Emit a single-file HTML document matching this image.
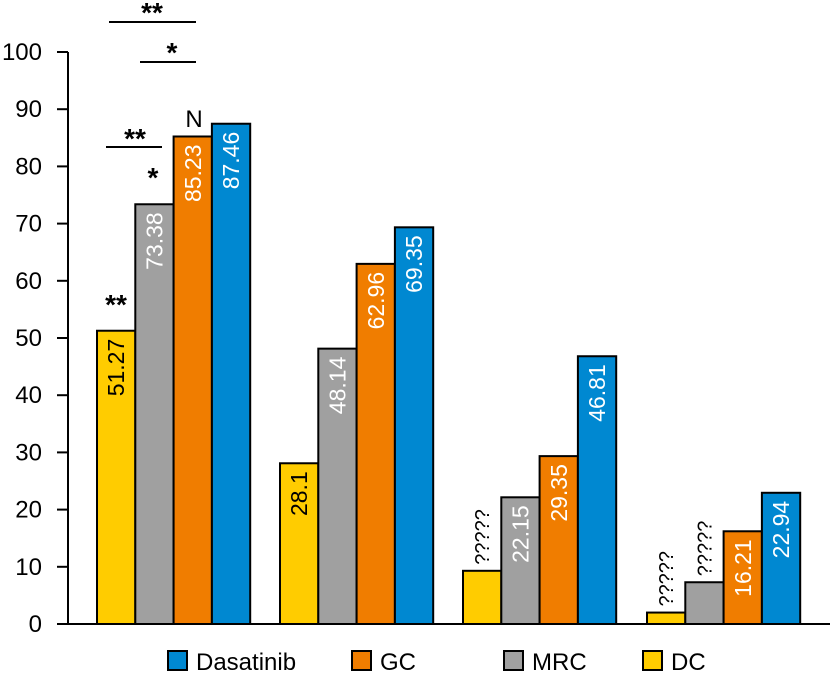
<!DOCTYPE html>
<html><head><meta charset="utf-8"><style>
body{margin:0;background:#fff;}
svg{display:block;font-family:"Liberation Sans",sans-serif;}
</style></head><body>
<svg id="chart" width="830" height="673">
<g id="axes"></g><g id="bars"></g><g id="annot"></g><g id="legend"></g>
</svg>
<script>
const groups = ['g1','g2','g3','g4'];
const seriesNames = ['DC','MRC','GC','Dasatinib'];
const colors = ['#ffcc00','#a0a0a0','#f07d00','#0088d1'];
const dcValues = [51.27, 28.1, 9.3, 2.0];
const mrcValues = [73.38, 48.14, 22.15, 7.3];
const gcValues = [85.23, 62.96, 29.35, 16.21];
const dasValues = [87.46, 69.35, 46.81, 22.94];
const dcLabels = ['51.27','28.1','?????','?????'];
const mrcLabels = ['73.38','48.14','22.15','?????'];
const gcLabels = ['85.23','62.96','29.35','16.21'];
const dasLabels = ['87.46','69.35','46.81','22.94'];
const yTicks = [0,10,20,30,40,50,60,70,80,90,100];
const legendOrder = [3,2,1,0];

const NS='http://www.w3.org/2000/svg';
const y0=624, pxPerUnit=5.72, axisX=68;
const y = v => y0 - v*pxPerUnit;
const groupStart = [97,280,463,647], barW=38.3;
const x = (g,s) => groupStart[g] + s*barW;
function mk(tag, attrs, parent, text){
  const e=document.createElementNS(NS,tag);
  for(const k in attrs) e.setAttribute(k,attrs[k]);
  if(text!==undefined) e.textContent=text;
  parent.appendChild(e); return e;
}
const axes=document.getElementById('axes'), bars=document.getElementById('bars'),
 annot=document.getElementById('annot'), legend=document.getElementById('legend');
const yl=mk('line',{x1:axisX,y1:y(100),x2:axisX,y2:y0,stroke:'#000','stroke-width':2},axes);


const xl=mk('line',{x1:axisX,y1:y0,x2:830,y2:y0,stroke:'#000','stroke-width':2},axes);


yTicks.forEach(t=>{
  const tk=mk('line',{x1:57,y1:y(t),x2:axisX,y2:y(t),stroke:'#000','stroke-width':2},axes);
  
  
  const tl=mk('text',{x:42,y:y(t)+8,'text-anchor':'end','font-size':24,fill:'#000'},axes,String(t));
  
  
});
const allVals=[dcValues,mrcValues,gcValues,dasValues];
const allLabels=[dcLabels,mrcLabels,gcLabels,dasLabels];
groups.forEach((g,gi)=>{
  for(let s=0;s<4;s++){
    const v=allVals[s][gi], bx=x(gi,s), by=y(v);
    const r=mk('rect',{x:bx,y:by,width:barW,height:y0-by,fill:colors[s],stroke:'#000','stroke-width':2},bars);
    
    
    const lab=allLabels[s][gi];
    const cx=bx+barW/2;
    let t;
    if(lab==='?????'){
      t=mk('text',{x:0,y:0,'font-size':20,fill:'#000','text-anchor':'start',transform:`translate(${cx+7},${by-6}) rotate(-90)`},bars,lab);
    } else {
      t=mk('text',{x:0,y:0,'font-size':23,fill:s===0?'#000':'#fff','text-anchor':'end',transform:`translate(${cx+8},${by+8}) rotate(-90)`},bars,lab);
    }
    
    
  }
});
function ann(tx,ty,str,size){
  const t=mk('text',{x:tx,y:ty,'text-anchor':'middle','font-size':size||28,'font-weight':'bold',fill:'#000'},annot,str);
  
  
}
function bracket(x1,x2,yy){
  const l=mk('line',{x1:x1,y1:yy,x2:x2,y2:yy,stroke:'#000','stroke-width':2},annot);
  
  
}
ann(116,314,'**');ann(153,187,'*');
bracket(106,162,147);ann(135,148,'**');
const n=mk('text',{x:194,y:127,'text-anchor':'middle','font-size':24,fill:'#000'},annot,'N');


bracket(140,196,62);ann(172,62,'*');
bracket(109,196,22);ann(152,22,'**');
const legX=[168,352,504,643], legT=['Dasatinib','GC','MRC','DC'];
legendOrder.forEach((s,i)=>{
  const r=mk('rect',{x:legX[i],y:651,width:19,height:19,fill:colors[s],stroke:'#000','stroke-width':2},legend);
  
  
  const t=mk('text',{x:legX[i]+28,y:670,'font-size':24,fill:'#000'},legend,legT[i]);
  
  
});
</script>
</body></html>
